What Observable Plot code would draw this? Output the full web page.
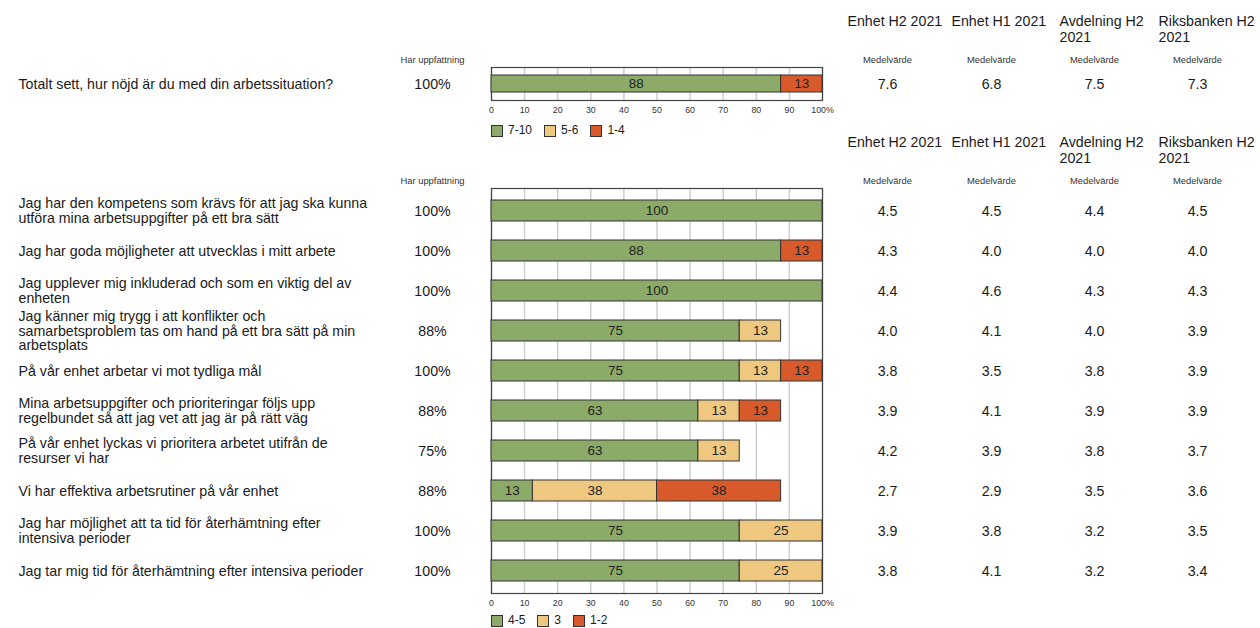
<!DOCTYPE html>
<html>
<head>
<meta charset="utf-8">
<script src="https://cdn.jsdelivr.net/npm/d3@7"></script>
<script src="https://cdn.jsdelivr.net/npm/@observablehq/plot@0.6"></script>
<style>
  html, body { margin: 0; padding: 0; background: #fff; }
  #wrap { position: relative; width: 1260px; height: 628px; overflow: hidden; font-family: "Liberation Sans", Arial, sans-serif; color: #1a1a1a; }
  #wrap svg { position: absolute; left: 0; overflow: visible; }
  .legend { position: absolute; display: flex; align-items: center; font-size: 12px; line-height: 13px; color: #1a1a1a; }
  .legend .item { display: flex; align-items: center; margin-right: 12px; }
  .legend .sw { width: 10px; height: 10px; border: 1.5px solid #333; margin-right: 5px; }
</style>
</head>
<body>
<div id="wrap"></div>
<script>
// ---------- DATA ----------
const columnHeaders = ["Enhet H2 2021", "Enhet H1 2021", "Avdelning H2\n2021", "Riksbanken H2\n2021"];

// Section 1 (scale 1-10)
const questions1 = ["Totalt sett, hur nöjd är du med din arbetssituation?"];
const har1 = [100];
const cats1 = ["7-10", "5-6", "1-4"];
const high1 = [87.5];
const mid1 = [0];
const low1 = [12.5];
const enhetH2_1 = [7.6];
const enhetH1_1 = [6.8];
const avdelning_1 = [7.5];
const riksbanken_1 = [7.3];

// Section 2 (scale 1-5)
const questions2 = [
  "Jag har den kompetens som krävs för att jag ska kunna\nutföra mina arbetsuppgifter på ett bra sätt",
  "Jag har goda möjligheter att utvecklas i mitt arbete",
  "Jag upplever mig inkluderad och som en viktig del av\nenheten",
  "Jag känner mig trygg i att konflikter och\nsamarbetsproblem tas om hand på ett bra sätt på min\narbetsplats",
  "På vår enhet arbetar vi mot tydliga mål",
  "Mina arbetsuppgifter och prioriteringar följs upp\nregelbundet så att jag vet att jag är på rätt väg",
  "På vår enhet lyckas vi prioritera arbetet utifrån de\nresurser vi har",
  "Vi har effektiva arbetsrutiner på vår enhet",
  "Jag har möjlighet att ta tid för återhämtning efter\nintensiva perioder",
  "Jag tar mig tid för återhämtning efter intensiva perioder"
];
const har2 = [100, 100, 100, 88, 100, 88, 75, 88, 100, 100];
const cats2 = ["4-5", "3", "1-2"];
const high2 = [100, 87.5, 100, 75, 75, 62.5, 62.5, 12.5, 75, 75];
const mid2  = [0, 0, 0, 12.5, 12.5, 12.5, 12.5, 37.5, 25, 25];
const low2  = [0, 12.5, 0, 0, 12.5, 12.5, 0, 37.5, 0, 0];
const enhetH2_2     = [4.5, 4.3, 4.4, 4.0, 3.8, 3.9, 4.2, 2.7, 3.9, 3.8];
const enhetH1_2     = [4.5, 4.0, 4.6, 4.1, 3.5, 4.1, 3.9, 2.9, 3.8, 4.1];
const avdelning_2   = [4.4, 4.0, 4.3, 4.0, 3.8, 3.9, 3.8, 3.5, 3.2, 3.2];
const riksbanken_2  = [4.5, 4.0, 4.3, 3.9, 3.9, 3.9, 3.7, 3.6, 3.5, 3.4];

const xTicks = [0, 10, 20, 30, 40, 50, 60, 70, 80, 90, 100];
const colors = ["#8cab68", "#efc880", "#d85a2a"];

// ---------- LAYOUT CONSTANTS ----------
const W = 1260, frameL = 491, frameR = 822;
const questionX = 18, harX = 432;
const meanCenters = [887, 991, 1094, 1197];
const headerStarts = [847, 951, 1059, 1158];
const bigFont = 14.2, smallFont = 9.4;

function build({questions, har, cats, high, mid, low, means, top, height, marginTop, marginBottom, paddingOuter}) {
  const rows = questions.map((q, i) => ({q, har: har[i], means: means.map(m => m[i])}));
  const segs = [];
  questions.forEach((q, i) => {
    [high[i], mid[i], low[i]].forEach((v, j) => { if (v > 0) segs.push({q, cat: cats[j], value: v}); });
  });
  const marks = [
    Plot.gridX(xTicks, {stroke: "#cfcfcf", strokeOpacity: 1, strokeWidth: 1.5}),
    Plot.frame({stroke: "#444", strokeWidth: 1.2}),
    Plot.axisX(xTicks, {tickSize: 0, tickPadding: 6, fontSize: 8.8, fill: "#333", label: null,
      tickFormat: d => d === 100 ? "100%" : String(d)}),
    Plot.barX(segs, {y: "q", x: "value", fill: "cat", stroke: "#333", strokeWidth: 1}),
    Plot.text(segs, Plot.stackX({y: "q", x: "value", text: d => String(Math.round(d.value)), fontSize: 13.5, fill: "#222"})),
    Plot.text(rows, {y: "q", text: "q", frameAnchor: "left", dx: questionX - frameL, textAnchor: "start",
      lineAnchor: "middle", lineHeight: 1.02, fontSize: bigFont, fill: "#1a1a1a"}),
    Plot.text(rows, {y: "q", text: d => d.har + "%", frameAnchor: "left", dx: harX - frameL, textAnchor: "middle",
      fontSize: bigFont, fill: "#1a1a1a"}),
    Plot.text(["Har uppfattning"], {text: d => d, frameAnchor: "top-left", dx: harX - frameL, dy: -8,
      textAnchor: "middle", lineAnchor: "middle", fontSize: smallFont, fill: "#333"})
  ];
  means.forEach((m, i) => {
    marks.push(Plot.text(rows, {y: "q", text: d => d.means[i].toFixed(1), frameAnchor: "right",
      dx: meanCenters[i] - frameR, textAnchor: "middle", fontSize: bigFont, fill: "#1a1a1a"}));
    marks.push(Plot.text(["Medelvärde"], {text: d => d, frameAnchor: "top-right", dx: meanCenters[i] - frameR, dy: -8,
      textAnchor: "middle", lineAnchor: "middle", fontSize: smallFont, fill: "#333"}));
    marks.push(Plot.text([columnHeaders[i]], {text: d => d, frameAnchor: "top-right", dx: headerStarts[i] - frameR,
      dy: -52.5, textAnchor: "start", lineAnchor: "top", lineHeight: 1.12, fontSize: bigFont, fill: "#1a1a1a"}));
  });
  const svg = Plot.plot({
    width: W, height,
    marginLeft: frameL, marginRight: W - frameR, marginTop, marginBottom,
    style: {fontFamily: "Liberation Sans, Arial, sans-serif", background: "transparent", overflow: "visible"},
    x: {domain: [0, 100], axis: null, label: null},
    y: {domain: questions, paddingInner: 0.48, paddingOuter, axis: null},
    color: {domain: cats, range: colors},
    marks
  });
  svg.style.top = top + "px";
  return svg;
}

function legend(cats, left, top) {
  const div = document.createElement("div");
  div.className = "legend";
  div.style.left = left + "px";
  div.style.top = top + "px";
  cats.forEach((c, i) => {
    const item = document.createElement("div");
    item.className = "item";
    const sw = document.createElement("div");
    sw.className = "sw";
    sw.style.background = colors[i];
    const lab = document.createElement("span");
    lab.textContent = c;
    item.appendChild(sw); item.appendChild(lab);
    div.appendChild(item);
  });
  return div;
}

const wrap = document.getElementById("wrap");
wrap.appendChild(build({
  questions: questions1, har: har1, cats: cats1, high: high1, mid: mid1, low: low1,
  means: [enhetH2_1, enhetH1_1, avdelning_1, riksbanken_1],
  top: 0, height: 120, marginTop: 67, marginBottom: 20, paddingOuter: 0.13
}));
wrap.appendChild(build({
  questions: questions2, har: har2, cats: cats2, high: high2, mid: mid2, low: low2,
  means: [enhetH2_2, enhetH1_2, avdelning_2, riksbanken_2],
  top: 120, height: 493, marginTop: 68, marginBottom: 20, paddingOuter: 0.25
}));
wrap.appendChild(legend(cats1, frameL, 124));
wrap.appendChild(legend(cats2, frameL, 614));
</script>
</body>
</html>
